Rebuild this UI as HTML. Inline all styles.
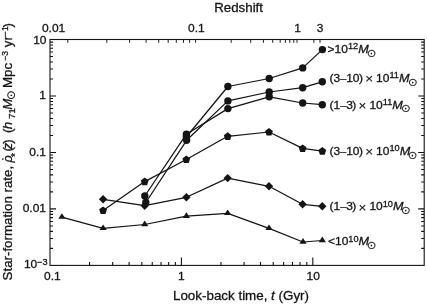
<!DOCTYPE html>
<html><head><meta charset="utf-8"><title>Star-formation rate</title>
<style>html,body{margin:0;padding:0;background:#fff}body{width:427px;height:305px;overflow:hidden}svg{display:block}text{font-family:"Liberation Sans",sans-serif;fill:#141414;stroke:#141414;stroke-width:0.3px}</style>
</head><body>
<svg width="427" height="305" viewBox="0 0 427 305">
<rect x="0" y="0" width="427" height="305" fill="#fff"/>
<g stroke="#141414" stroke-width="1.1" fill="none" stroke-linecap="butt">
<rect x="50.0" y="39.5" width="374.2" height="225.9"/>
<path d="M50.0 248.40h3.0 M424.2 248.40h-3.0"/>
<path d="M50.0 238.45h3.0 M424.2 238.45h-3.0"/>
<path d="M50.0 231.40h3.0 M424.2 231.40h-3.0"/>
<path d="M50.0 225.93h3.0 M424.2 225.93h-3.0"/>
<path d="M50.0 221.45h3.0 M424.2 221.45h-3.0"/>
<path d="M50.0 217.67h3.0 M424.2 217.67h-3.0"/>
<path d="M50.0 214.40h3.0 M424.2 214.40h-3.0"/>
<path d="M50.0 211.51h3.0 M424.2 211.51h-3.0"/>
<path d="M50.0 208.92h6.0 M424.2 208.92h-6.0"/>
<path d="M50.0 191.92h3.0 M424.2 191.92h-3.0"/>
<path d="M50.0 181.98h3.0 M424.2 181.98h-3.0"/>
<path d="M50.0 174.92h3.0 M424.2 174.92h-3.0"/>
<path d="M50.0 169.45h3.0 M424.2 169.45h-3.0"/>
<path d="M50.0 164.98h3.0 M424.2 164.98h-3.0"/>
<path d="M50.0 161.20h3.0 M424.2 161.20h-3.0"/>
<path d="M50.0 157.92h3.0 M424.2 157.92h-3.0"/>
<path d="M50.0 155.03h3.0 M424.2 155.03h-3.0"/>
<path d="M50.0 152.45h6.0 M424.2 152.45h-6.0"/>
<path d="M50.0 135.45h3.0 M424.2 135.45h-3.0"/>
<path d="M50.0 125.50h3.0 M424.2 125.50h-3.0"/>
<path d="M50.0 118.45h3.0 M424.2 118.45h-3.0"/>
<path d="M50.0 112.98h3.0 M424.2 112.98h-3.0"/>
<path d="M50.0 108.50h3.0 M424.2 108.50h-3.0"/>
<path d="M50.0 104.72h3.0 M424.2 104.72h-3.0"/>
<path d="M50.0 101.45h3.0 M424.2 101.45h-3.0"/>
<path d="M50.0 98.56h3.0 M424.2 98.56h-3.0"/>
<path d="M50.0 95.97h6.0 M424.2 95.97h-6.0"/>
<path d="M50.0 78.97h3.0 M424.2 78.97h-3.0"/>
<path d="M50.0 69.03h3.0 M424.2 69.03h-3.0"/>
<path d="M50.0 61.97h3.0 M424.2 61.97h-3.0"/>
<path d="M50.0 56.50h3.0 M424.2 56.50h-3.0"/>
<path d="M50.0 52.03h3.0 M424.2 52.03h-3.0"/>
<path d="M50.0 48.25h3.0 M424.2 48.25h-3.0"/>
<path d="M50.0 44.97h3.0 M424.2 44.97h-3.0"/>
<path d="M50.0 42.08h3.0 M424.2 42.08h-3.0"/>
<path d="M89.56 265.4v-3.5"/>
<path d="M112.69 265.4v-3.5"/>
<path d="M129.11 265.4v-3.5"/>
<path d="M141.84 265.4v-3.5"/>
<path d="M152.25 265.4v-3.5"/>
<path d="M161.05 265.4v-3.5"/>
<path d="M168.67 265.4v-3.5"/>
<path d="M175.39 265.4v-3.5"/>
<path d="M181.40 265.4v-8.0"/>
<path d="M220.96 265.4v-3.5"/>
<path d="M244.09 265.4v-3.5"/>
<path d="M260.51 265.4v-3.5"/>
<path d="M273.24 265.4v-3.5"/>
<path d="M283.65 265.4v-3.5"/>
<path d="M292.45 265.4v-3.5"/>
<path d="M300.07 265.4v-3.5"/>
<path d="M306.79 265.4v-3.5"/>
<path d="M312.80 265.4v-8"/>
<path stroke-width="0.95" d="M67.80 39.5v3.3"/>
<path stroke-width="0.95" d="M106.80 39.5v3.3"/>
<path stroke-width="0.95" d="M129.60 39.5v3.3"/>
<path stroke-width="0.95" d="M146.10 39.5v3.3"/>
<path stroke-width="0.95" d="M158.70 39.5v3.3"/>
<path stroke-width="0.95" d="M168.20 39.5v3.3"/>
<path stroke-width="0.95" d="M176.30 39.5v3.3"/>
<path stroke-width="0.95" d="M183.50 39.5v3.3"/>
<path stroke-width="0.95" d="M189.60 39.5v3.3"/>
<path stroke-width="0.95" d="M195.60 39.5v3.3"/>
<path stroke-width="0.95" d="M231.20 39.5v3.3"/>
<path stroke-width="0.95" d="M250.70 39.5v3.3"/>
<path stroke-width="0.95" d="M263.40 39.5v3.3"/>
<path stroke-width="0.95" d="M272.70 39.5v3.3"/>
<path stroke-width="0.95" d="M280.20 39.5v3.3"/>
<path stroke-width="0.95" d="M285.40 39.5v3.3"/>
<path stroke-width="0.95" d="M289.80 39.5v3.3"/>
<path stroke-width="0.95" d="M293.80 39.5v3.3"/>
<path stroke-width="0.95" d="M297.00 39.5v3.3"/>
<path stroke-width="0.95" d="M313.90 39.5v3.3"/>
<path stroke-width="0.95" d="M320.00 39.5v3.3"/>
</g>
<g stroke="#141414" stroke-width="1.25" fill="none" stroke-linejoin="round">
<polyline points="186.3,137.0 227.9,86.5 269.2,78.5 302.7,67.9 322.4,49.6"/>
<polyline points="145.8,202.5 186.6,140.3 227.9,100.9 269.2,92.0 302.7,87.7 322.3,81.8"/>
<polyline points="144.8,196.0 186.4,134.2 227.9,108.6 269.2,96.8 302.7,103.0 322.3,104.7"/>
<polyline points="103.1,210.4 144.7,181.6 186.3,159.5 227.7,136.3 269.0,132.0 302.6,148.4 322.3,151.1"/>
<polyline points="103.1,199.3 144.7,205.7 186.4,197.3 227.7,178.1 269.0,186.3 302.6,204.3 322.3,206.3"/>
<polyline points="61.9,217.1 103.1,228.3 144.7,224.5 186.4,216.2 227.7,213.3 269.0,228.3 303.0,242.0 322.3,240.5"/>
</g>
<g fill="#141414" stroke="none">
<circle cx="186.3" cy="137.0" r="3.7"/>
<circle cx="227.9" cy="86.5" r="3.7"/>
<circle cx="269.2" cy="78.5" r="3.7"/>
<circle cx="302.7" cy="67.9" r="3.7"/>
<circle cx="322.4" cy="49.6" r="3.7"/>
<circle cx="145.8" cy="202.5" r="3.7"/>
<circle cx="186.6" cy="140.3" r="3.7"/>
<circle cx="227.9" cy="100.9" r="3.7"/>
<circle cx="269.2" cy="92.0" r="3.7"/>
<circle cx="302.7" cy="87.7" r="3.7"/>
<circle cx="322.3" cy="81.8" r="3.7"/>
<circle cx="144.8" cy="196.0" r="3.7"/>
<circle cx="186.4" cy="134.2" r="3.7"/>
<circle cx="227.9" cy="108.6" r="3.7"/>
<circle cx="269.2" cy="96.8" r="3.7"/>
<circle cx="302.7" cy="103.0" r="3.7"/>
<circle cx="322.3" cy="104.7" r="3.7"/>
<polygon points="103.1,206.4 107.0,209.3 105.5,214.0 100.7,214.0 99.2,209.3"/>
<polygon points="144.7,177.6 148.6,180.5 147.1,185.2 142.3,185.2 140.8,180.5"/>
<polygon points="186.3,155.5 190.2,158.4 188.7,163.1 183.9,163.1 182.4,158.4"/>
<polygon points="227.7,132.3 231.6,135.2 230.1,139.9 225.3,139.9 223.8,135.2"/>
<polygon points="269.0,128.0 272.9,130.9 271.4,135.6 266.6,135.6 265.1,130.9"/>
<polygon points="302.6,144.4 306.5,147.3 305.0,152.0 300.2,152.0 298.7,147.3"/>
<polygon points="322.3,147.1 326.2,150.0 324.7,154.7 319.9,154.7 318.4,150.0"/>
<polygon points="103.1,195.1 107.3,199.3 103.1,203.5 98.9,199.3"/>
<polygon points="144.7,201.5 148.9,205.7 144.7,209.9 140.5,205.7"/>
<polygon points="186.4,193.1 190.6,197.3 186.4,201.5 182.2,197.3"/>
<polygon points="227.7,173.9 231.9,178.1 227.7,182.3 223.5,178.1"/>
<polygon points="269.0,182.1 273.2,186.3 269.0,190.5 264.8,186.3"/>
<polygon points="302.6,200.1 306.8,204.3 302.6,208.5 298.4,204.3"/>
<polygon points="322.3,202.1 326.5,206.3 322.3,210.5 318.1,206.3"/>
<polygon points="61.9,213.2 65.5,218.8 58.3,218.8"/>
<polygon points="103.1,224.4 106.7,230.0 99.5,230.0"/>
<polygon points="144.7,220.6 148.3,226.2 141.1,226.2"/>
<polygon points="186.4,212.3 190.0,217.9 182.8,217.9"/>
<polygon points="227.7,209.4 231.3,215.0 224.1,215.0"/>
<polygon points="269.0,224.4 272.6,230.0 265.4,230.0"/>
<polygon points="303.0,238.1 306.6,243.7 299.4,243.7"/>
<polygon points="322.3,236.6 325.9,242.2 318.7,242.2"/>
</g>
<text transform="translate(53.6,32.2) scale(1,0.920)" font-size="12.0" text-anchor="middle">0.01</text>
<text transform="translate(196.4,32.2) scale(1,0.920)" font-size="12.0" text-anchor="middle">0.1</text>
<text transform="translate(297.6,32.2) scale(1,0.920)" font-size="12.0" text-anchor="middle">1</text>
<text transform="translate(320.2,32.2) scale(1,0.920)" font-size="12.0" text-anchor="middle">3</text>
<text transform="translate(52.3,280.0) scale(1,0.920)" font-size="12.0" text-anchor="middle">0.1</text>
<text transform="translate(181.4,280.0) scale(1,0.920)" font-size="12.0" text-anchor="middle">1</text>
<text transform="translate(313.2,280.0) scale(1,0.920)" font-size="12.0" text-anchor="middle">10</text>
<text transform="translate(46.5,44.0) scale(1,0.920)" font-size="12.0" text-anchor="end">10</text>
<text transform="translate(46.0,99.2) scale(1,0.920)" font-size="12.0" text-anchor="end">1</text>
<text transform="translate(46.0,155.7) scale(1,0.920)" font-size="12.0" text-anchor="end">0.1</text>
<text transform="translate(46.0,212.4) scale(1,0.920)" font-size="12.0" text-anchor="end">0.01</text>
<text transform="translate(23.9,268.3) scale(1,0.920)" font-size="12.0" text-anchor="start">10<tspan font-size="9.2" dy="-3.8">−3</tspan></text>
<text transform="translate(238.6,11.8) scale(1,0.950)" font-size="13.3" text-anchor="middle">Redshift</text>
<text transform="translate(241.0,300.3) scale(1,0.950)" font-size="13.4" text-anchor="middle">Look-back time, <tspan font-style="italic">t</tspan> (Gyr)</text>
<g transform="translate(11.8,280.4) rotate(-90)" font-size="13.3">
<text x="0" y="0">Star-formation rate,</text>
<text x="117.8" y="0" font-style="italic" font-size="12.6">ρ</text>
<circle cx="121.4" cy="-9.0" r="0.85" fill="#141414"/>
<text x="123.3" y="7.4" font-size="10">*</text>
<text x="129.0" y="0">(</text>
<text x="131.2" y="0" font-style="italic" font-size="12.6">z</text>
<text x="136.6" y="0">)</text>
<text x="147.5" y="0">(</text>
<text x="151.2" y="0" font-style="italic">h</text>
<text x="161.7" y="3.1" font-size="9.4">71</text>
<text x="170.7" y="0" font-style="italic">M</text>
<text x="180.44" y="3.17" font-size="11.6" style="font-family:'DejaVu Sans',sans-serif;stroke-width:0.12px">⊙</text>
<text x="192.4" y="0">Mpc</text>
<text x="219.8" y="-4.2" font-size="8.5">−3</text>
<text x="233.2" y="0">yr</text>
<text x="244.4" y="-4.2" font-size="8.5">−1</text>
<text x="252.8" y="0">)</text>
</g>
<text transform="translate(327.6,52.8) scale(1,0.920)" font-size="12.0" text-anchor="start">&gt;10<tspan font-size="9.2" dy="-4.2">12</tspan><tspan font-style="italic" font-size="12.6" dy="4.2">M</tspan></text>
<text transform="translate(329.5,81.8) scale(1,0.920)" font-size="12.0" text-anchor="start">(3<tspan font-size="10.8">–</tspan>10<tspan dx="-0.6">)</tspan><tspan font-size="13.5" dx="-1.4" dy="1.2" stroke-width="0.1"> ×</tspan><tspan dx="-0.4" dy="-1.2"> </tspan>10<tspan font-size="9.2" dy="-4.2">11</tspan><tspan font-style="italic" font-size="12.6" dy="4.2">M</tspan></text>
<text transform="translate(329.5,108.5) scale(1,0.920)" font-size="12.0" text-anchor="start">(1<tspan font-size="10.8">–</tspan>3<tspan dx="-0.6">)</tspan><tspan font-size="13.5" dx="-1.4" dy="1.2" stroke-width="0.1"> ×</tspan><tspan dx="-0.4" dy="-1.2"> </tspan>10<tspan font-size="9.2" dy="-4.2">11</tspan><tspan font-style="italic" font-size="12.6" dy="4.2">M</tspan></text>
<text transform="translate(329.5,154.7) scale(1,0.920)" font-size="12.0" text-anchor="start">(3<tspan font-size="10.8">–</tspan>10<tspan dx="-0.6">)</tspan><tspan font-size="13.5" dx="-1.4" dy="1.2" stroke-width="0.1"> ×</tspan><tspan dx="-0.4" dy="-1.2"> </tspan>10<tspan font-size="9.2" dy="-4.2">10</tspan><tspan font-style="italic" font-size="12.6" dy="4.2">M</tspan></text>
<text transform="translate(329.5,210.4) scale(1,0.920)" font-size="12.0" text-anchor="start">(1<tspan font-size="10.8">–</tspan>3<tspan dx="-0.6">)</tspan><tspan font-size="13.5" dx="-1.4" dy="1.2" stroke-width="0.1"> ×</tspan><tspan dx="-0.4" dy="-1.2"> </tspan>10<tspan font-size="9.2" dy="-4.2">10</tspan><tspan font-style="italic" font-size="12.6" dy="4.2">M</tspan></text>
<text transform="translate(328.0,245.4) scale(1,0.920)" font-size="12.0" text-anchor="start">&lt;10<tspan font-size="9.2" dy="-4.2">10</tspan><tspan font-style="italic" font-size="12.6" dy="4.2">M</tspan></text>
<text x="366.82" y="56.60" font-size="11.4" style="font-family:'DejaVu Sans',sans-serif;stroke-width:0.12px">⊙</text>
<text x="407.92" y="85.61" font-size="11.4" style="font-family:'DejaVu Sans',sans-serif;stroke-width:0.12px">⊙</text>
<text x="401.12" y="112.30" font-size="11.4" style="font-family:'DejaVu Sans',sans-serif;stroke-width:0.12px">⊙</text>
<text x="407.72" y="158.51" font-size="11.4" style="font-family:'DejaVu Sans',sans-serif;stroke-width:0.12px">⊙</text>
<text x="401.12" y="214.21" font-size="11.4" style="font-family:'DejaVu Sans',sans-serif;stroke-width:0.12px">⊙</text>
<text x="366.82" y="249.21" font-size="11.4" style="font-family:'DejaVu Sans',sans-serif;stroke-width:0.12px">⊙</text>
</svg></body></html>
